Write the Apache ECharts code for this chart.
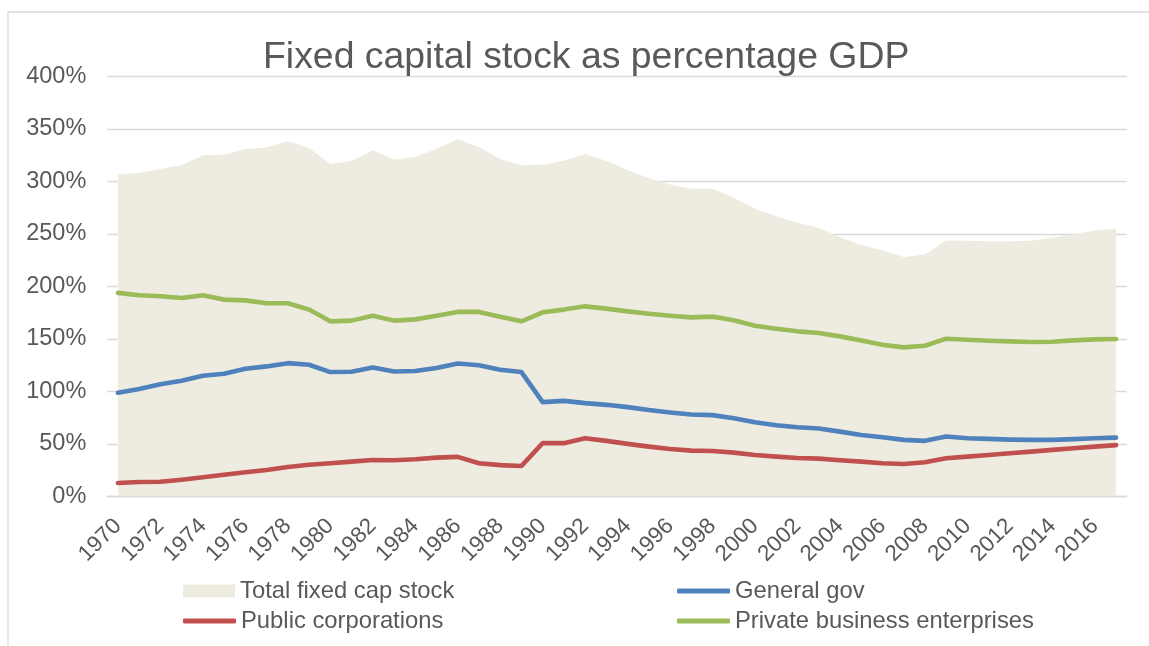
<!DOCTYPE html>
<html>
<head>
<meta charset="utf-8">
<title>Fixed capital stock as percentage GDP</title>
<script src="https://cdn.jsdelivr.net/npm/echarts@6/dist/echarts.min.js"></script>
<style>
  html, body { margin: 0; padding: 0; background: #ffffff; }
  #chart { width: 1149px; height: 646px; }
</style>
</head>
<body>
<div id="chart"></div>
<script>
// Years on the horizontal axis
const years = [];
for (let y = 1970; y <= 2017; y++) years.push(String(y));

// Fixed capital stock, % of GDP
const totalStock = [306.8, 308.4, 312, 315.7, 325, 325.5, 331, 332.5, 338.5, 332,
  316.6, 319.5, 329.7, 320.8, 323.3, 331.3, 340.2, 332.8, 321.5, 315.4,
  316, 319.8, 326.2, 319.5, 310.9, 303, 297.2, 293.4, 293.1, 284.5,
  274, 267, 260.7, 255.9, 247, 239.5, 234.5, 228.2, 230.4, 243.8,
  243.5, 243, 243, 243.5, 246.4, 249.8, 253.3, 255.2];

const generalGov = [98.8, 102.3, 107, 110.2, 115, 116.9, 121.7, 123.9, 127, 125.5,
  118.5, 118.8, 122.9, 119.1, 119.5, 122.3, 126.7, 125, 120.7, 118.5,
  89.9, 91.1, 88.9, 87.3, 85.1, 82.3, 80, 78.1, 77.5, 74.6,
  70.8, 67.9, 66, 64.7, 61.8, 58.5, 56.5, 53.9, 53, 57.1,
  55.5, 54.9, 54.2, 53.9, 53.9, 54.6, 55.5, 56.1];

const publicCorps = [12.9, 13.8, 14.1, 16, 18.3, 20.8, 23.1, 25.3, 28.1, 30.3,
  31.7, 33.2, 34.8, 34.5, 35.5, 37, 37.7, 31.7, 29.9, 29.1,
  50.8, 50.8, 55.5, 53, 50.1, 47.5, 45.3, 43.7, 43.4, 41.8,
  39.6, 38, 36.7, 36.1, 34.5, 33.2, 31.7, 31, 32.6, 36.4,
  38, 39.6, 41.2, 42.7, 44.4, 46, 47.5, 48.9];

const privateBusiness = [193.9, 191.6, 190.7, 189.1, 191.6, 187.5, 186.8, 184, 184, 178,
  166.8, 167.5, 172.2, 167.5, 168.7, 172.2, 175.8, 175.8, 171.3, 166.8,
  175.4, 178, 181.1, 178.9, 176.3, 174.1, 172.2, 170.6, 171.3, 167.8,
  162.7, 159.8, 157.3, 155.7, 152.5, 148.5, 144.6, 142, 143.6, 150.3,
  149.3, 148.4, 147.7, 147.1, 147.4, 148.7, 149.6, 150];

const textColor = '#595959';
const gridColor = '#D9D9D9';
const areaColor = '#EEECE1';
const font = 'Liberation Sans, Arial, sans-serif';
const legendText = { color: textColor, fontSize: 23.8, fontFamily: font };

const chart = echarts.init(document.getElementById('chart'), null, { renderer: 'canvas' });

chart.setOption({
  backgroundColor: '#ffffff',
  animation: false,
  title: {
    text: 'Fixed capital stock as percentage GDP',
    left: 263,
    top: 39,
    padding: 0,
    textStyle: { color: textColor, fontSize: 37.4, fontWeight: 'normal', fontFamily: font }
  },
  graphic: [{
    type: 'rect',
    shape: { x: 8, y: 12, width: 1200, height: 700 },
    style: { fill: 'none', stroke: gridColor, lineWidth: 1.3 },
    silent: true
  }],
  grid: { left: 107.3, right: 22.3, top: 76.5, bottom: 149.5, containLabel: false },
  legend: [{
    // area swatch
    orient: 'vertical',
    left: 183,
    top: 579,
    padding: 0,
    itemWidth: 52,
    itemHeight: 13,
    textStyle: legendText,
    data: [{ name: 'Total fixed cap stock', icon: 'rect', itemStyle: { color: areaColor } }]
  }, {
    orient: 'vertical',
    left: 183,
    top: 609,
    padding: 0,
    itemWidth: 53,
    itemHeight: 5,
    textStyle: legendText,
    data: [{ name: 'Public corporations', icon: 'roundRect' }]
  }, {
    orient: 'vertical',
    left: 677,
    top: 579,
    padding: 0,
    itemWidth: 53,
    itemHeight: 5,
    itemGap: 6,
    textStyle: legendText,
    data: [
      { name: 'General gov', icon: 'roundRect' },
      { name: 'Private business enterprises', icon: 'roundRect' }
    ]
  }],
  xAxis: {
    type: 'category',
    data: years,
    boundaryGap: true,
    axisLine: { show: true, lineStyle: { color: gridColor, width: 1.3 } },
    axisTick: { show: false },
    splitLine: { show: false },
    axisLabel: {
      rotate: 45,
      margin: 26,
      interval: 1,
      color: textColor,
      fontSize: 22.5,
      fontFamily: font
    }
  },
  yAxis: {
    type: 'value',
    min: 0,
    max: 400,
    interval: 50,
    axisLine: { show: false },
    axisTick: { show: false },
    axisLabel: {
      formatter: '{value}%',
      margin: 21,
      color: textColor,
      fontSize: 23.5,
      fontFamily: font
    },
    splitLine: { lineStyle: { color: gridColor, width: 1.3 } }
  },
  series: [{
    name: 'Total fixed cap stock',
    type: 'line',
    data: totalStock,
    symbol: 'none',
    lineStyle: { width: 0 },
    itemStyle: { color: areaColor },
    areaStyle: { color: areaColor, opacity: 1 },
    z: 1
  }, {
    name: 'Public corporations',
    type: 'line',
    data: publicCorps,
    symbol: 'none',
    itemStyle: { color: '#C0504D' },
    lineStyle: { color: '#C0504D', width: 4.6, cap: 'round', join: 'round' },
    z: 3
  }, {
    name: 'General gov',
    type: 'line',
    data: generalGov,
    symbol: 'none',
    itemStyle: { color: '#4F81BD' },
    lineStyle: { color: '#4F81BD', width: 4.6, cap: 'round', join: 'round' },
    z: 3
  }, {
    name: 'Private business enterprises',
    type: 'line',
    data: privateBusiness,
    symbol: 'none',
    itemStyle: { color: '#9BBB59' },
    lineStyle: { color: '#9BBB59', width: 4.6, cap: 'round', join: 'round' },
    z: 3
  }]
});
</script>
</body>
</html>
